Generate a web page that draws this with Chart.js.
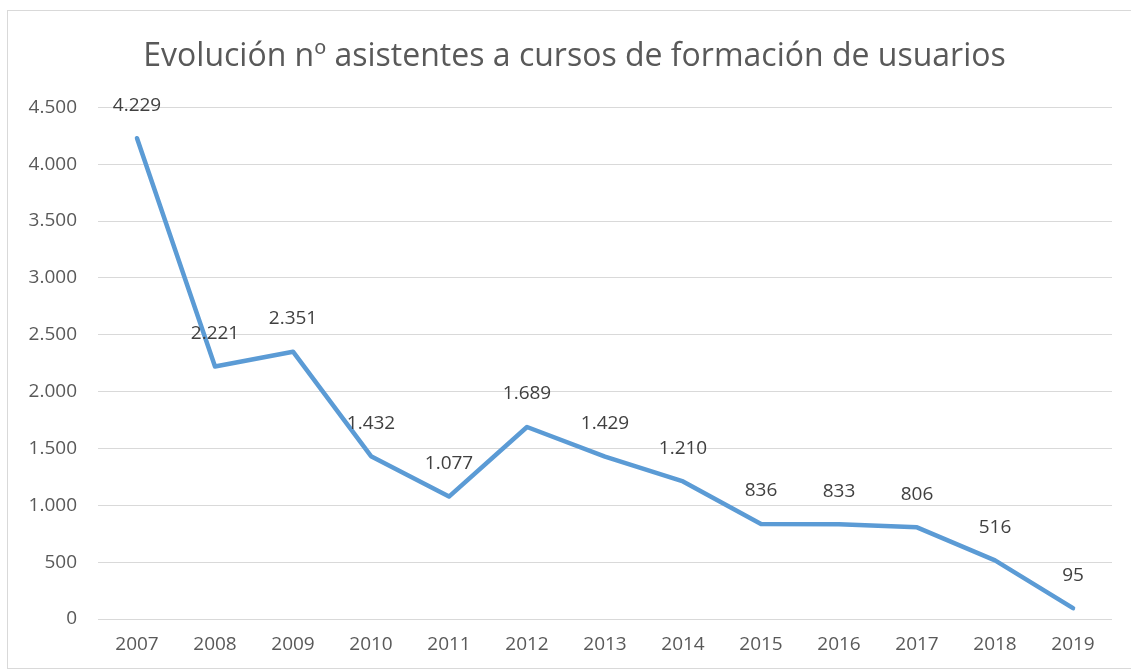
<!DOCTYPE html>
<html>
<head>
<meta charset="utf-8">
<script src="https://cdn.jsdelivr.net/npm/chart.js@4"></script>
<style>
  html, body { margin: 0; padding: 0; background: #fff; overflow: hidden; }
  #box { position: absolute; left: 7px; top: 10px; width: 1123px; height: 657px; border: 1px solid #d9d9d9; }
  canvas { display: block; }
</style>
</head>
<body>
<div id="box"><canvas id="chart" width="1123" height="657"></canvas></div>
<script>
// data
const years = ['2007','2008','2009','2010','2011','2012','2013','2014','2015','2016','2017','2018','2019'];
const asistentes = [4229, 2221, 2351, 1432, 1077, 1689, 1429, 1210, 836, 833, 806, 516, 95];
const yMin = 0, yMax = 4500, yStep = 500;

const fontFamily = "'Open Sans', sans-serif";

// spanish thousands separator (4.500)
const fmt = v => String(v).replace(/\B(?=(\d{3})+(?!\d))/g, '.');

// value labels above each point
const pointLabels = {
  id: 'pointLabels',
  afterLayout(chart) {
    // y labels stick out into the left padding, don't clip them
    chart.scales.y.left = 0;
  },
  afterDatasetsDraw(chart) {
    const ctx = chart.ctx;
    const meta = chart.getDatasetMeta(0);
    ctx.save();
    ctx.font = '19px ' + fontFamily;
    ctx.fillStyle = '#404040';
    ctx.textAlign = 'center';
    ctx.textBaseline = 'middle';
    meta.data.forEach((pt, i) => {
      ctx.fillText(fmt(asistentes[i]), pt.x, pt.y - 33);
    });
    ctx.restore();
  }
};

const chart = new Chart(document.getElementById('chart'), {
  type: 'line',
  data: {
    labels: years,
    datasets: [{
      data: asistentes,
      borderColor: '#5b9bd5',
      borderWidth: 4.5,
      pointRadius: 0,
      tension: 0,
      borderCapStyle: 'round',
      borderJoinStyle: 'round'
    }]
  },
  options: {
    responsive: false,
    animation: false,
    layout: { padding: { left: 29, right: 19, top: 0, bottom: 0 } },
    plugins: {
      legend: { display: false },
      tooltip: { enabled: false },
      title: {
        display: true,
        text: 'Evolución nº asistentes a cursos de formación de usuarios',
        color: '#595959',
        font: { family: fontFamily, size: 32, weight: 'normal' },
        padding: { top: 27, bottom: 31 }
      }
    },
    scales: {
      x: {
        offset: true,
        grid: { display: false, drawTicks: false },
        border: { display: false },
        ticks: { color: '#595959', font: { family: fontFamily, size: 19 }, padding: 14, maxRotation: 0 },
        afterFit: s => { s.height = 49; }
      },
      y: {
        min: yMin, max: yMax,
        grid: { color: '#d9d9d9', drawTicks: false },
        border: { display: false },
        ticks: { stepSize: yStep, color: '#595959', font: { family: fontFamily, size: 19 }, padding: 21, callback: v => fmt(v) },
        afterFit: s => { s.width = 61; }
      }
    }
  },
  plugins: [pointLabels]
});
</script>
</body>
</html>
